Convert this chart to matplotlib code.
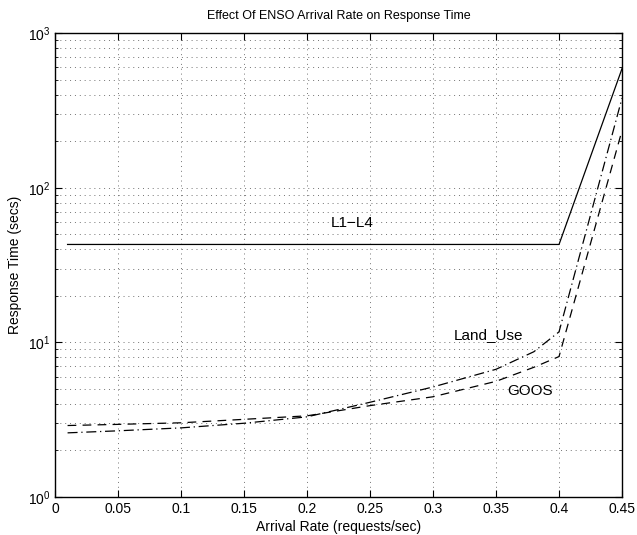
import matplotlib
matplotlib.use('Agg')
import matplotlib.pyplot as plt
from matplotlib.ticker import FormatStrFormatter, LogLocator, NullFormatter

plt.rcParams['font.family'] = ['Liberation Sans', 'DejaVu Sans']
plt.rcParams['font.size'] = 10

# arrival rates (requests/sec)
rate = [0.01, 0.05, 0.10, 0.15, 0.20, 0.25, 0.30, 0.35, 0.38, 0.40, 0.45]
rate_l14 = [0.01, 0.40, 0.45]

# response times (secs)
l1_l4 = [43, 43, 590]
land_use = [2.6, 2.68, 2.8, 3.0, 3.3, 4.1, 5.15, 6.7, 8.7, 11.7, 380]
goos = [2.9, 2.95, 3.02, 3.18, 3.35, 3.9, 4.45, 5.6, 6.9, 8.1, 235]

fig = plt.figure(figsize=(6.37, 5.35), dpi=100)
ax = fig.add_axes([0.0863, 0.071, 0.8902, 0.867])

ax.plot(rate_l14, l1_l4, color='k', linestyle='-', linewidth=0.9)
ax.plot(rate, land_use, color='k', linestyle=(0, (8, 3, 1, 3)), linewidth=0.9)
ax.plot(rate, goos, color='k', linestyle=(0, (7, 5)), linewidth=0.9)

ax.text(0.2355, 59, 'L1\u2212L4', ha='center', va='center', fontsize=11)
ax.text(0.3437, 11.1, 'Land_Use', ha='center', va='center', fontsize=11)
ax.text(0.377, 4.87, 'GOOS', ha='center', va='center', fontsize=11)

ax.set_yscale('log')
ax.set_xlim(0, 0.45)
ax.set_ylim(1, 1000)
ax.set_xticks([i * 0.05 for i in range(10)])
ax.xaxis.set_major_formatter(FormatStrFormatter('%g'))
ax.yaxis.set_major_locator(LogLocator(base=10, numticks=10))
ax.yaxis.set_minor_locator(LogLocator(base=10, subs=range(2, 10), numticks=10))
ax.yaxis.set_minor_formatter(NullFormatter())

grid_style = dict(linestyle=(0, (1, 4)), color='0.45', linewidth=0.7)
ax.grid(True, which='major', **grid_style)
ax.grid(True, which='minor', axis='y', **grid_style)
ax.tick_params(which='both', direction='in', top=True, right=True)
ax.tick_params(which='major', length=5)
ax.tick_params(which='minor', length=2.5)
for s in ax.spines.values():
    s.set_linewidth(1.0)

ax.set_title('Effect Of ENSO Arrival Rate on Response Time', fontsize=9, pad=10)
ax.set_xlabel('Arrival Rate (requests/sec)', labelpad=3)
ax.set_ylabel('Response Time (secs)')

fig.savefig('out.png', dpi=100)
